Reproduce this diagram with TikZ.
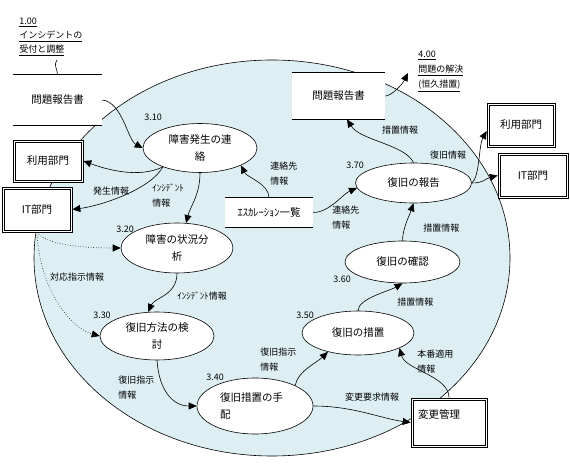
\documentclass[tikz,border=0pt]{standalone}
\usepackage{fontspec}
\setmainfont{Noto Sans CJK JP}
\usetikzlibrary{shapes.geometric,arrows.meta}
\definecolor{pond}{RGB}{221,239,243}
\begin{document}
\begin{tikzpicture}[x=1pt,y=-1pt,line width=0.6pt,
  font=\fontsize{10.5}{17}\selectfont,
  proc/.style={ellipse,draw,fill=white,inner sep=0pt,align=center},
  ext/.style={draw,fill=white,inner sep=0pt},
  store/.style={fill=white,inner sep=0pt},
  lbl/.style={font=\fontsize{9}{15}\selectfont,align=left,inner sep=0pt},
  num/.style={font=\fontsize{9}{11}\selectfont,inner sep=0pt},
  flow/.style={-{Triangle[length=8pt,width=7pt]}},
  info/.style={flow,dotted}]
\useasboundingbox (0,0) rectangle (570,470);
\draw[fill=pond] (272,258) ellipse [x radius=238,y radius=198];

\node[store,minimum width=89pt,minimum height=50pt] (dsA) at (57.5,100) {問題報告書};
\draw (dsA.north west) -- (dsA.north east) (dsA.south west) -- (dsA.south east);
\node[store,minimum width=93pt,minimum height=46pt] (dsB) at (338.5,96) {問題報告書};
\draw (dsB.north west) -- (dsB.north east) (dsB.south west) -- (dsB.south east);
\node[store,minimum width=88pt,minimum height=29pt] (dsE) at (269,212.5) {ｴｽｶﾚｰｼｮﾝ一覧};
\draw (dsE.north west) -- (dsE.north east) (dsE.south west) -- (dsE.south east);

\node[ext,minimum width=70pt,minimum height=42pt] (uA) at (48,161) {利用部門};
\node[ext,minimum width=70pt,minimum height=45pt] (itA) at (37,209.5) {IT部門};
\node[ext,minimum width=68pt,minimum height=44pt] (uB) at (521,125) {利用部門};
\node[ext,minimum width=70pt,minimum height=45pt] (itB) at (533,175.5) {IT部門};
\node[ext,minimum width=76pt,minimum height=49pt,text width=62pt,align=left] (chg) at (449,422.5) {変更管理\\ \mbox{}};
\foreach \b in {uA,itA,uB,itB,chg}
  \draw[line width=0.5pt] ([xshift=2.2pt,yshift=-2.2pt]\b.north west) rectangle ([xshift=-2.2pt,yshift=2.2pt]\b.south east);

\node[proc,minimum width=114pt,minimum height=49pt] (p310) at (200,148) {障害発生の連\\絡};
\node[proc,minimum width=112pt,minimum height=50pt] (p320) at (177,248) {障害の状況分\\析};
\node[proc,minimum width=114pt,minimum height=48pt] (p330) at (157,336) {復旧方法の検\\討};
\node[proc,minimum width=116pt,minimum height=56pt,text width=70pt,align=left] (p340) at (255,406) {復旧措置の手\\配};
\node[proc,minimum width=112pt,minimum height=44pt] (p350) at (358,333) {復旧の措置};
\node[proc,minimum width=115pt,minimum height=42pt] (p360) at (402.5,262) {復旧の確認};
\node[proc,minimum width=116pt,minimum height=40pt] (p370) at (413.5,183) {復旧の報告};

\foreach \k/\s/\x/\y in {a/3.10/153/117,b/3.20/125/229,c/3.30/102/315,d/3.40/215/377,e/3.50/305/315,f/3.60/342/279,g/3.70/355/165}
  \node[num] (num\k) at (\x,\y) {\s};

\node[lbl,anchor=north west,font=\fontsize{9}{14}\selectfont] (ttlA) at (19,18) {\underline{1.00}\\\underline{インシデントの}\\\underline{受付と調整}};
\node[lbl,anchor=north west,font=\fontsize{9}{15}\selectfont] (ttlB) at (418,51) {\underline{4.00}\\\underline{問題の解決}\\\underline{(恒久措置)}};
\coordinate (tA) at (57,60);
\coordinate (tB) at (408,73);

\node[lbl] (lbHas) at (111,191) {発生情報};
\node[lbl,anchor=west] (lbInc1) at (152,195.5) {ｲﾝｼﾃﾞﾝﾄ\\情報};
\node[lbl,anchor=west] (lbCon1) at (270,173.5) {連絡先\\情報};
\node[lbl,anchor=west] (lbCon2) at (332,217.5) {連絡先\\情報};
\node[lbl,anchor=west] (lbInc2) at (177,296) {ｲﾝｼﾃﾞﾝﾄ情報};
\node[lbl] (lbTai) at (77,277) {対応指示情報};
\node[lbl,anchor=west] (lbFuk1) at (118,387.5) {復旧指示\\情報};
\node[lbl,anchor=west] (lbFuk2) at (260,359.5) {復旧指示\\情報};
\node[lbl] (lbHen) at (372,397) {変更要求情報};
\node[lbl,anchor=west] (lbHon) at (417,361.5) {本番適用\\情報};
\node[lbl,anchor=west] (lbSo1) at (397,302) {措置情報};
\node[lbl,anchor=west] (lbSo2) at (423,228) {措置情報};
\node[lbl] (lbSo3) at (400,130) {措置情報};
\node[lbl] (lbFuk3) at (448,155) {復旧情報};

\draw (tA) .. controls +(-4,5) and +(0,-6) .. (dsA.north);
\draw[flow] (dsB.east) .. controls +(6,0) and +(-6,12) .. (tB);
\draw[flow] (dsA.east) .. controls +(20,2) and +(-15,-8) .. (p310.west);
\draw[flow] (p310.207) .. controls +(-25,12) and +(22,8) .. (uA.east);
\draw[flow] (p310.207) .. controls +(-12,22) and +(30,-4) .. (itA.east);
\draw[flow] (p310.south) .. controls +(0,22) and +(4,-16) .. (p320.70);
\draw[flow] (dsE.north) .. controls +(0,-14) and +(6,12) .. (p310.337);
\draw[flow] (dsE.east) .. controls +(16,0) and +(-14,6) .. (p370.185);
\draw[flow] (p320.south) .. controls +(0,22) and +(6,-14) .. (p330.110);
\draw[flow] (p330.south) .. controls +(2,30) and +(-24,0) .. (p340.west);
\draw[flow] (p340.27) .. controls +(2,-14) and +(-10,10) .. (p350.212);
\draw[flow] (p340.east) .. controls +(40,0) and +(-30,-4) .. (chg.west);
\draw[flow] (chg.north) .. controls +(0,-22) and +(6,22) .. (p350.340);
\draw[flow] (p350.north) .. controls +(0,-12) and +(-14,8) .. (p360.south);
\draw[flow] (p360.north) .. controls +(0,-12) and +(-4,12) .. (p370.south);
\draw[flow] (p370.north) .. controls +(-8,-18) and +(13,21) .. (dsB.-70);
\draw[flow] (p370.east) .. controls +(8,-6) and +(-8,14) .. (uB.190);
\draw[flow] (p370.east) .. controls +(12,0) and +(-12,3) .. (itB.west);
\draw[info] (itA.south) .. controls +(10,14) and +(-30,0) .. (p320.west);
\draw[info] (itA.south) .. controls +(2,55) and +(-30,-8) .. (p330.west);
\end{tikzpicture}
\end{document}
